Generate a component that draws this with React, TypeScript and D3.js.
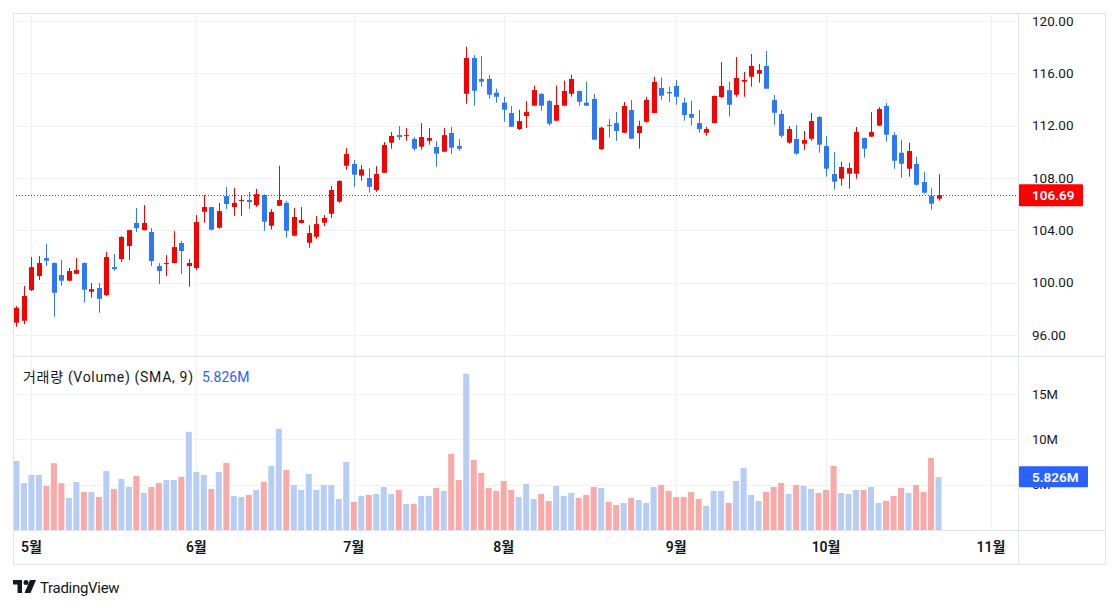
import React from "react";
import * as d3 from "d3";

// OHLC per trading day (index 0 = first visible bar)
const opens = [96.94,97.09,99.43,100.5,101.88,101.5,100.58,100.15,100.68,101.5,99.31,99.59,99.05,101.19,101.8,102.8,104.56,104.02,103.87,101.27,101.42,101.5,103.03,101.27,101.12,105.42,105.78,104.2,106.62,105.78,106.24,106.32,105.93,106.7,104.35,105.88,106.09,103.59,104.56,103.05,103.51,104.58,105.27,106.19,108.94,109.07,108.18,108.0,107.08,108.4,110.7,111.28,111.21,110.98,110.39,110.85,110.37,110.01,111.44,110.44,114.44,117.17,115.57,115.57,114.52,113.76,112.97,111.74,112.74,113.53,114.42,113.88,112.38,113.53,114.44,114.65,113.76,114.04,110.21,112.05,112.2,111.46,113.2,111.44,112.3,112.97,114.88,114.57,115.03,113.76,112.89,112.2,111.46,112.2,114.19,114.72,114.37,115.36,115.74,115.97,116.56,113.96,112.89,110.7,110.98,110.62,111.0,112.66,110.44,108.3,107.95,108.33,108.33,111.06,111.16,112.0,113.5,111.28,109.93,108.71,109.07,107.69,106.65,106.42];
const highs = [98.21,99.74,101.96,102.03,102.95,101.55,101.73,101.12,101.88,101.55,99.97,99.97,102.34,102.19,103.56,104.05,105.7,105.93,104.17,101.5,102.11,103.94,103.18,101.8,105.17,106.7,105.8,106.09,107.31,107.23,106.62,106.93,107.16,106.75,105.63,108.94,106.24,105.7,105.78,104.4,105.09,105.17,107.39,107.84,110.29,109.37,108.99,108.76,108.91,110.75,111.51,111.97,111.82,111.13,112.2,111.82,110.83,111.82,111.9,110.98,118.04,117.4,117.32,115.87,114.83,114.21,113.5,113.22,113.88,115.06,114.5,113.96,115.06,115.44,115.9,114.68,115.36,114.42,111.92,112.51,113.04,113.81,113.96,112.38,114.21,115.74,115.67,114.98,115.49,114.14,113.91,113.2,111.9,114.3,116.87,115.36,117.25,116.1,117.48,116.71,117.71,114.34,113.2,111.97,112.05,111.59,112.97,112.74,111.21,109.99,109.25,109.17,111.9,111.08,113.04,113.42,113.73,111.51,110.93,110.7,109.63,108.46,107.23,108.3];
const lows = [96.63,96.83,99.36,100.2,101.27,97.4,99.77,100.1,100.65,98.47,98.85,97.7,98.98,100.91,101.58,101.73,103.87,104.0,101.27,99.89,100.5,101.48,100.66,99.69,100.95,104.58,104.0,104.12,105.63,105.09,105.09,105.63,105.78,103.97,104.05,105.85,103.44,103.55,104.52,102.67,103.36,104.33,104.94,106.11,108.63,107.33,107.79,106.88,106.95,108.38,110.24,110.9,110.85,110.09,110.16,110.55,108.86,110.0,109.83,110.09,113.68,113.53,114.98,114.06,113.76,112.3,111.9,111.67,111.82,113.5,113.14,112.0,112.35,113.5,114.21,113.53,113.5,110.9,110.14,111.08,110.85,111.44,110.98,110.24,112.23,112.95,113.96,113.81,113.6,112.38,112.0,111.46,111.23,112.18,114.11,112.69,114.21,114.21,114.98,115.29,114.8,112.07,111.08,110.62,109.78,110.14,110.85,109.93,108.1,107.11,107.41,107.18,107.95,109.55,111.14,111.98,110.78,108.71,108.02,108.1,107.41,106.8,105.58,106.26];
const closes = [98.08,98.98,101.19,101.5,101.68,99.23,100.15,100.89,100.96,99.46,99.51,98.77,101.96,101.04,103.49,104.02,104.17,104.56,101.65,100.89,101.5,102.72,102.42,101.5,104.63,105.78,104.05,105.47,106.01,106.09,106.32,106.16,106.77,104.66,105.4,106.32,103.97,105.02,104.79,103.79,104.48,104.94,107.08,107.77,109.83,108.25,108.66,107.33,108.3,110.52,111.21,111.13,111.28,110.24,111.13,111.05,109.86,111.28,110.32,110.24,117.17,114.67,115.36,114.37,114.21,113.22,111.92,112.35,113.04,114.72,113.53,112.15,113.58,114.65,115.57,113.83,113.53,110.93,111.85,111.97,111.59,113.5,111.0,111.97,113.96,115.34,114.29,114.47,114.21,112.81,112.61,111.74,111.74,114.27,115.03,113.6,115.64,115.49,116.56,116.25,114.83,112.99,111.23,111.74,109.86,110.9,112.36,110.55,108.71,107.72,108.84,108.76,111.51,110.24,111.51,113.27,111.31,109.32,109.09,110.06,107.49,106.88,106.04,106.69];
// Volume in millions
const volumes = [7.62,5.16,6.08,6.08,4.86,7.37,5.16,3.54,5.3,4.2,4.2,3.65,6.52,4.53,5.64,4.75,5.97,4.09,4.75,5.19,5.52,5.52,5.86,10.83,6.41,6.08,4.53,6.41,7.4,3.76,3.65,3.87,4.42,5.3,7.07,11.16,6.63,4.97,4.42,6.19,4.42,4.97,4.97,3.43,7.51,3.09,3.76,3.87,3.98,4.75,3.98,4.42,2.87,2.87,3.76,3.76,4.64,4.31,8.4,5.52,17.24,7.73,6.3,4.64,4.31,5.41,4.42,3.65,5.08,3.43,3.98,3.2,4.86,3.76,4.09,3.54,3.87,4.75,4.64,3.09,2.76,2.98,3.54,3.31,2.98,4.75,4.97,4.31,3.65,3.65,4.2,3.43,2.65,4.31,4.31,2.98,5.41,6.85,3.87,3.2,4.2,4.75,5.19,3.98,4.97,4.86,4.53,4.09,4.42,7.07,4.09,3.98,4.42,4.42,4.75,2.98,3.2,3.76,4.64,4.09,4.97,4.2,7.96,5.826];

const monthIdx = [2, 24, 45, 65, 88, 108, 130];
const monthLabels = ["5월", "6월", "7월", "8월", "9월", "10월", "11월"];
const priceTicks = [96, 100, 104, 108, 112, 116, 120];
const volTicks = [5, 10, 15];
const volTickLabels = ["5M", "10M", "15M"];
const lastPrice = 106.69;
const lastVolLabel = "5.826M";

const UP = "#f70000";
const DOWN = "#2c79f5";
const VOL_UP = "#b6cdf6";
const VOL_DOWN = "#f8a9a8";
const GRID = "#f0f2f7";
const BORDER = "#e0e3eb";
const TEXT = "#131722";
const FONT = "Roboto, 'Noto Sans CJK KR', sans-serif";

export default function App() {
  const L = 13, R = 1018, RR = 1105, T = 13;
  const priceBottom = 356, volBottom = 530, axisBottom = 564;
  const x = d3.scaleLinear().domain([-0.4535, 133.6]).range([L, R]);
  const y = d3.scaleLinear().domain([96, 120]).range([335, 21]);
  const yv = d3.scaleLinear().domain([0, 15]).range([volBottom, 394]);
  const bodyW = 5;
  const volW = 6;
  const lastVol = volumes[volumes.length - 1];

  return (
    <svg width={1118} height={609} style={{ position: "fixed", left: 0, top: 0, background: "#fff" }} fontFamily={FONT}>
      <rect x={0} y={0} width={1118} height={609} fill="#fff" />
      {/* grid */}
      {priceTicks.map((p) => (
        <line key={"pg" + p} x1={L} x2={R} y1={Math.round(y(p)) + 0.5} y2={Math.round(y(p)) + 0.5} stroke={GRID} />
      ))}
      {volTicks.map((v) => (
        <line key={"vg" + v} x1={L} x2={R} y1={Math.round(yv(v)) + 0.5} y2={Math.round(yv(v)) + 0.5} stroke={GRID} />
      ))}
      {monthIdx.map((m) => (
        <line key={"mg" + m} x1={Math.round(x(m)) + 0.5} x2={Math.round(x(m)) + 0.5} y1={T} y2={volBottom} stroke={GRID} />
      ))}
      {/* volume bars */}
      {volumes.map((v, i) => {
        const up = closes[i] >= opens[i];
        return (
          <rect key={"v" + i} x={x(i) - volW / 2} y={yv(v)} width={volW} height={volBottom - yv(v)} fill={up ? VOL_UP : VOL_DOWN} />
        );
      })}
      {/* candles */}
      {opens.map((o, i) => {
        const c = closes[i];
        const up = c >= o;
        const col = up ? UP : DOWN;
        const cx = Math.round(x(i));
        const top = y(Math.max(o, c));
        const bot = y(Math.min(o, c));
        return (
          <g key={"c" + i}>
            <rect x={cx} y={y(highs[i])} width={1} height={y(lows[i]) - y(highs[i])} fill={col} />
            <rect x={cx - 2} y={top} width={bodyW} height={Math.max(1, bot - top)} fill={col} />
          </g>
        );
      })}
      {/* last price dotted line */}
      <line x1={L} x2={R} y1={Math.round(y(lastPrice)) + 0.5} y2={Math.round(y(lastPrice)) + 0.5} stroke="#ff0000" strokeDasharray="1,2" shapeRendering="crispEdges" />
      {/* borders */}
      <rect x={L + 0.5} y={T + 0.5} width={RR - L} height={axisBottom - T} fill="none" stroke={BORDER} />
      <line x1={L} x2={RR} y1={priceBottom + 0.5} y2={priceBottom + 0.5} stroke={BORDER} />
      <line x1={L} x2={RR} y1={volBottom + 0.5} y2={volBottom + 0.5} stroke={BORDER} />
      <line x1={R + 0.5} x2={R + 0.5} y1={T} y2={axisBottom} stroke={BORDER} />
      {/* price axis labels */}
      {priceTicks.map((p) => (
        <text key={"pl" + p} x={1032} y={y(p)} dy="0.35em" fontSize={13.5} fill={TEXT}>
          {p.toFixed(2)}
        </text>
      ))}
      <rect x={R + 1} y={y(lastPrice) - 11} width={64} height={22} fill="#ff0000" rx={1} />
      <text x={1032} y={y(lastPrice)} dy="0.35em" fontSize={13.5} fill="#fff" fontWeight={600}>
        {lastPrice.toFixed(2)}
      </text>
      {/* volume axis labels */}
      {volTicks.map((v, i) => (
        <text key={"vl" + v} x={1032} y={yv(v)} dy="0.35em" fontSize={13} fill={TEXT}>
          {volTickLabels[i]}
        </text>
      ))}
      <rect x={R + 1} y={yv(lastVol) - 11} width={69} height={21} fill="#2962ff" rx={1} />
      <text x={1032} y={yv(lastVol)} dy="0.35em" fontSize={13.5} fill="#fff" fontWeight={600}>
        {lastVolLabel}
      </text>
      {/* legend */}
      <text x={23} y={377} dy="0.35em" fontSize={14} fill={TEXT} textLength={170} lengthAdjust="spacing">
        거래량 (Volume) (SMA, 9)
      </text>
      <text x={202} y={377} dy="0.35em" fontSize={14} fill="#2962ff">
        {lastVolLabel}
      </text>
      {/* time axis */}
      {monthIdx.map((m, i) => (
        <text key={"ml" + m} x={x(m)} y={547} dy="0.35em" fontSize={14} fill={TEXT} textAnchor="middle" fontWeight={600}>
          {monthLabels[i]}
        </text>
      ))}
      {/* TradingView logo */}
      <g transform="translate(13,580)" fill={TEXT}>
        <path d="M0 0h9v13h-4.5v-8.5h-4.5z" />
        <circle cx={13} cy={2.5} r={2.5} />
        <path d="M17 0h6l-5.5 13h-6z" />
      </g>
      <text x={40} y={593} fontSize={15} fill={TEXT} style={{ letterSpacing: "-0.3px" }}>
        TradingView
      </text>
    </svg>
  );
}
